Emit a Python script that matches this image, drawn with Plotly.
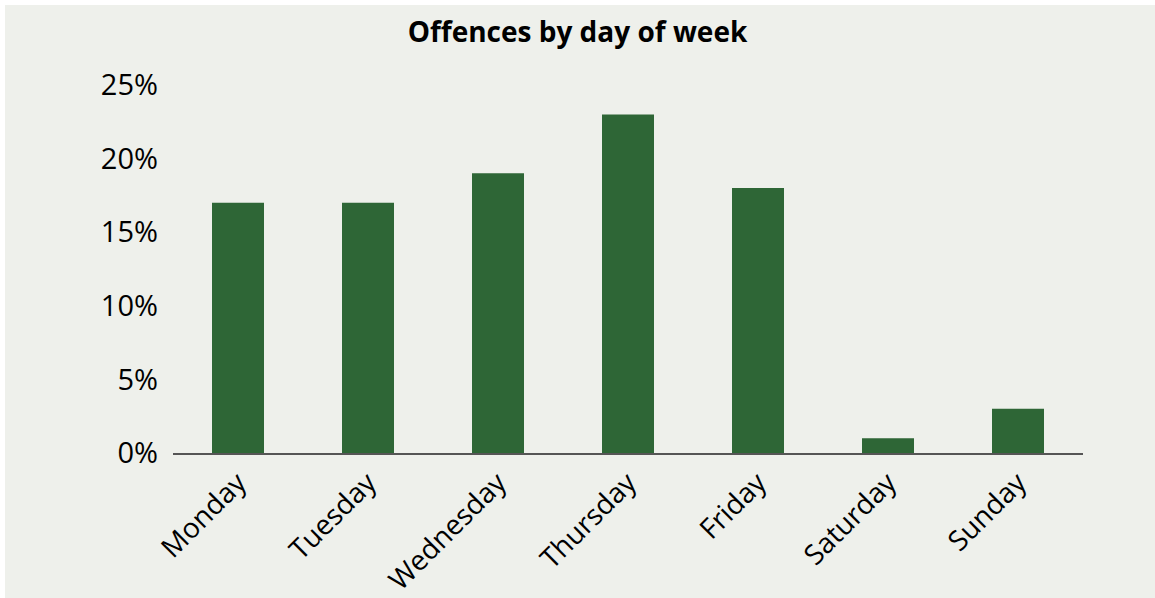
import plotly.graph_objects as go

days = ["Monday", "Tuesday", "Wednesday", "Thursday", "Friday", "Saturday", "Sunday"]
share = [17, 17, 19, 23, 18, 1, 3]
y_ticks = [0, 5, 10, 15, 20, 25]
y_tick_labels = ["0%", "5%", "10%", "15%", "20%", "25%"]

BG = "#EEF0EB"
W, H = 1155, 598
ml, mr, mt, mb = 173, 72, 85, 145
pw, ph = W - ml - mr, H - mt - mb

fig = go.Figure(go.Bar(x=days, y=share, marker=dict(color="#2E6636", line=dict(width=0)),
                       hoverinfo="x+y"))

fig.update_layout(
    width=W, height=H,
    autosize=False,
    margin=dict(l=ml, r=mr, t=mt, b=mb, pad=0, autoexpand=False),
    paper_bgcolor="white",
    plot_bgcolor=BG,
    bargap=0.6,
    font=dict(family="Open Sans, Noto Sans, sans-serif", color="black", size=28),
    title=dict(text="<b>Offences by day of week</b>", x=0.5, xanchor="center",
               y=1 - 32 / H, yanchor="middle", font=dict(size=28, color="black")),
    showlegend=False,
    shapes=[dict(type="rect", xref="paper", yref="paper", layer="below",
                 x0=(5 - ml) / pw, x1=(W - ml) / pw,
                 y0=(0 - mb) / ph, y1=(H - 5 - mb) / ph,
                 fillcolor=BG, line=dict(width=0))],
)
fig.update_xaxes(showline=True, linecolor="#555555", linewidth=2, ticks="",
                 tickangle=-45, showgrid=False, zeroline=False, automargin=False,
                 tickfont=dict(size=28))
fig.update_yaxes(range=[0, 25], tickvals=y_ticks, ticktext=y_tick_labels,
                 showgrid=False, zeroline=False, showline=False, ticks="",
                 automargin=False, ticklen=0, tickfont=dict(size=29),
                 ticklabelstandoff=14)

fig.write_html("out.html",
               config={"displayModeBar": False, "responsive": False},
               post_script="document.body.style.margin='0';")
